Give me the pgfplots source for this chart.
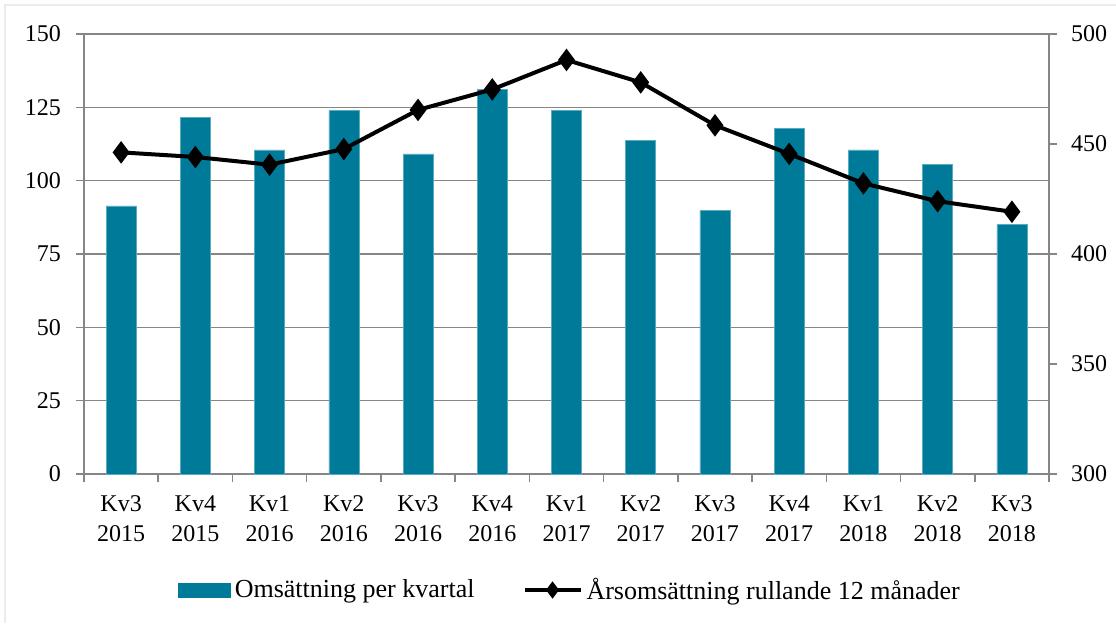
\documentclass[border=0pt]{standalone}
\usepackage{fontspec}
\setmainfont{Liberation Serif}
\usepackage{pgfplots}
\pgfplotsset{compat=1.18}
\definecolor{barblue}{RGB}{0,122,153}
\definecolor{baredge}{RGB}{90,170,195}
\definecolor{gridgray}{RGB}{134,134,134}

\begin{document}
\begin{tikzpicture}[font=\fontsize{12}{15}\selectfont]
\path[use as bounding box] (-42pt,-74.5pt) rectangle (516pt,237pt);
\draw[gray!15, line width=1pt] (-39.5pt,-74.5pt) -- (-39.5pt,234.5pt) -- (516pt,234.5pt);

\pgfplotsset{
  common/.style={
    at={(0,0)}, anchor=south west,
    scale only axis, width=482.5pt, height=220pt,
    xmin=-0.5, xmax=12.5,
    /pgf/number format/assume math mode=true,
    tick align=outside,
    major tick length=4pt, minor tick length=4pt,
    axis line style={gridgray, line width=0.8pt},
    tick style={gridgray, line width=0.8pt},
  }
}

\begin{axis}[
  common,
  ymin=0, ymax=150, ytick={0,25,...,150},
  xtick={0,...,12},
  xticklabels={Kv3\\2015,Kv4\\2015,Kv1\\2016,Kv2\\2016,Kv3\\2016,Kv4\\2016,Kv1\\2017,Kv2\\2017,Kv3\\2017,Kv4\\2017,Kv1\\2018,Kv2\\2018,Kv3\\2018},
  xticklabel style={align=center, yshift=-3.5pt},
  yticklabel style={xshift=-4pt},
  major x tick style={draw=none},
  minor xtick={-0.5,0.5,...,12.5},
  xtick pos=bottom, ytick pos=left,
  ymajorgrids, grid style={gridgray, line width=0.8pt},
  legend columns=2,
  legend style={draw=none, at={(0.5047,-0.2636)}, anchor=center,
    font=\fontsize{13}{15}\selectfont,
    /tikz/every even column/.append style={column sep=22pt},
    cells={anchor=west}},
]
\addplot[ybar, bar width=15pt, fill=barblue, draw=baredge, line width=0.3pt,
  legend image code/.code={\fill[barblue] (0pt,-3.5pt) rectangle (26pt,3.5pt);}]
  coordinates {(0,91.4) (1,121.6) (2,110.5) (3,123.9) (4,109.1) (5,131.2) (6,123.9)
               (7,113.6) (8,89.8) (9,117.9) (10,110.5) (11,105.6) (12,85.0)};
\addlegendentry{Omsättning per kvartal}
\addlegendimage{legend image code/.code={
  \draw[black, line width=2pt] (0pt,0pt) -- (28pt,0pt);
  \path plot[mark=diamond*, mark size=4pt, mark options={fill=black, draw=black}] coordinates {(14pt,0pt)};}}
\addlegendentry{Årsomsättning rullande 12 månader}
\end{axis}

\begin{axis}[
  common,
  ymin=300, ymax=500, ytick={300,350,...,500},
  axis y line*=right, axis x line=none,
  yticklabel style={xshift=3.5pt},
]
\addplot[black, line width=2pt, mark=diamond*, mark size=4pt, mark options={fill=black}]
  coordinates {(0,446.2) (1,444.1) (2,440.6) (3,447.7) (4,465.5) (5,474.8) (6,488.2)
               (7,478.0) (8,458.5) (9,445.5) (10,432.1) (11,424.0) (12,419.2)};
\end{axis}
\end{tikzpicture}
\end{document}
